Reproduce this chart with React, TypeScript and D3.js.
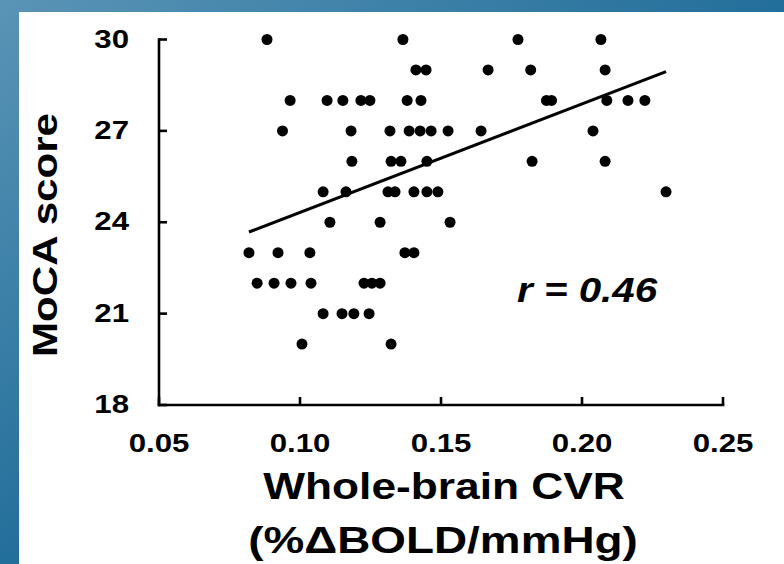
import React from "react";
import * as d3 from "d3";

// Whole-brain CVR (%ΔBOLD/mmHg) and MoCA score per participant
const cvr: number[] = [
  0.0883, 0.1365, 0.1773, 0.2067,
  0.1411, 0.1447, 0.1667, 0.1818, 0.2082,
  0.0965, 0.1096, 0.1152, 0.1216, 0.1248, 0.138, 0.1429, 0.1874, 0.1892, 0.2088, 0.2163, 0.2223,
  0.0938, 0.1181, 0.1319, 0.1387, 0.1426, 0.1465, 0.1525, 0.1642, 0.2039,
  0.1184, 0.1323, 0.1358, 0.145, 0.1823, 0.2082,
  0.1082, 0.1163, 0.1312, 0.1337, 0.1404, 0.145, 0.1489, 0.2298,
  0.1106, 0.1284, 0.1532,
  0.0819, 0.0922, 0.1035, 0.1372, 0.1404,
  0.0848, 0.0908, 0.0968, 0.1039, 0.1227, 0.1255, 0.1284,
  0.1082, 0.1149, 0.1191, 0.1245,
  0.1007, 0.1323,
];
const moca: number[] = [
  30, 30, 30, 30,
  29, 29, 29, 29, 29,
  28, 28, 28, 28, 28, 28, 28, 28, 28, 28, 28, 28,
  27, 27, 27, 27, 27, 27, 27, 27, 27,
  26, 26, 26, 26, 26, 26,
  25, 25, 25, 25, 25, 25, 25, 25,
  24, 24, 24,
  23, 23, 23, 23, 23,
  22, 22, 22, 22, 22, 22, 22,
  21, 21, 21, 21,
  20, 20,
];
const xTicks: number[] = [0.05, 0.1, 0.15, 0.2, 0.25];
const yTicks: number[] = [18, 21, 24, 27, 30];
const fitIntercept = 20.765;
const fitSlope = 35.59;
const rLabel = "r = 0.46";
const xTitle1 = "Whole-brain CVR";
const xTitle2 = "(%ΔBOLD/mmHg)";
const yTitle = "MoCA score";

const W = 784;
const H = 564;
const FONT = "'Liberation Sans', Arial, Helvetica, sans-serif";

export default function App() {
  const x = d3.scaleLinear().domain([0.05, 0.25]).range([159, 723]);
  const y = d3.scaleLinear().domain([18, 30]).range([405, 39.5]);
  const ext = d3.extent(cvr) as [number, number];
  const fitLine = d3
    .line<number>()
    .x((d) => x(d))
    .y((d) => y(fitIntercept + fitSlope * d));
  const sx = 1.2;

  return (
    <svg
      width={W}
      height={H}
      style={{ position: "absolute", left: 0, top: 0, display: "block" }}
      fontFamily={FONT}
    >
      <defs>
        <linearGradient id="bg" x1="0" y1="0" x2="1" y2="1">
          <stop offset="0" stopColor="#5a94b6" />
          <stop offset="0.5" stopColor="#236f9b" />
          <stop offset="1" stopColor="#075a8b" />
        </linearGradient>
      </defs>
      <rect x={0} y={0} width={W} height={H} fill="url(#bg)" />
      <rect x={19} y={12} width={W - 19} height={H - 12} fill="#ffffff" />

      {/* axes */}
      <line x1={x(0.05)} x2={x(0.05)} y1={y(30)} y2={y(18)} stroke="#000" strokeWidth={2.6} strokeLinecap="square" />
      <line x1={x(0.05)} x2={x(0.25)} y1={y(18)} y2={y(18)} stroke="#000" strokeWidth={2.6} strokeLinecap="square" />
      {yTicks.map((t) => (
        <g key={"yt" + t}>
          <line x1={x(0.05)} x2={x(0.05) + 8} y1={y(t)} y2={y(t)} stroke="#000" strokeWidth={2.6} />
          <text
            transform={`translate(129,${y(t) + 8}) scale(${sx},1)`}
            textAnchor="end"
            fontSize={26}
            fontWeight="bold"
            fill="#000"
          >
            {String(t)}
          </text>
        </g>
      ))}
      {xTicks.map((t) => (
        <g key={"xt" + t}>
          <line x1={x(t)} x2={x(t)} y1={y(18)} y2={y(18) - 8} stroke="#000" strokeWidth={2.6} />
          <text
            transform={`translate(${x(t)},${y(18) + 47}) scale(${sx},1)`}
            textAnchor="middle"
            fontSize={26}
            fontWeight="bold"
            fill="#000"
          >
            {d3.format(".2f")(t)}
          </text>
        </g>
      ))}

      {/* points */}
      {cvr.map((v, i) => (
        <circle key={i} cx={x(v)} cy={y(moca[i])} r={5.5} fill="#000" />
      ))}

      {/* fit */}
      <path d={fitLine(ext) || ""} stroke="#000" strokeWidth={3} fill="none" />

      <text
        transform={`translate(517,302) scale(1.12,1)`}
        fontSize={36}
        fontWeight="bold"
        fontStyle="italic"
        fill="#000"
      >
        {rLabel}
      </text>

      {/* axis titles */}
      <text
        transform={`translate(444,499) scale(1.23,1)`}
        textAnchor="middle"
        fontSize={36}
        fontWeight="bold"
        fill="#000"
      >
        {xTitle1}
      </text>
      <text
        transform={`translate(443,553) scale(1.24,1)`}
        textAnchor="middle"
        fontSize={37}
        fontWeight="bold"
        fill="#000"
      >
        {xTitle2}
      </text>
      <text
        transform={`translate(57,235) rotate(-90) scale(1.17,1)`}
        textAnchor="middle"
        fontSize={36}
        fontWeight="bold"
        fill="#000"
      >
        {yTitle}
      </text>
    </svg>
  );
}
